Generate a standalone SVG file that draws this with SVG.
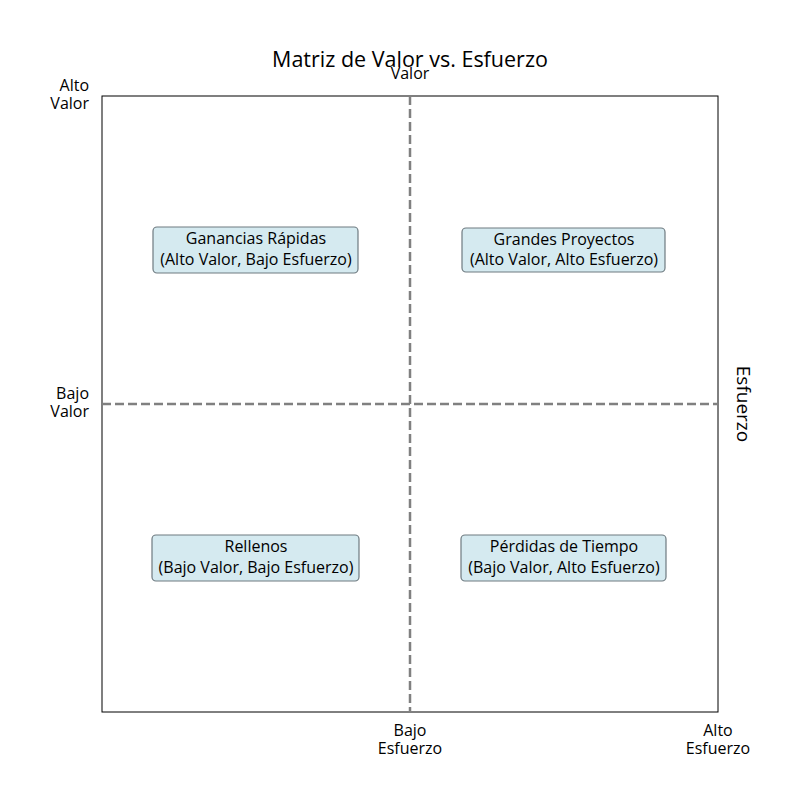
<svg xmlns="http://www.w3.org/2000/svg" width="800" height="800" viewBox="0 0 800 800">
<style>
text{font-family:"Open Sans",Roboto,"DejaVu Sans",sans-serif;fill:#000}
.t{font-size:16px}
.b{fill:#d5eaf0;stroke:#6e7a80;stroke-width:1.2}
.d{stroke:#808080;stroke-width:2.5;stroke-dasharray:9,4;fill:none}
</style>
<rect width="800" height="800" fill="#fff"/>
<text x="410" y="67" font-size="21.5" text-anchor="middle">Matriz de Valor vs. Esfuerzo</text>
<text class="t" x="410" y="79" text-anchor="middle">Valor</text>
<text transform="translate(737,404) rotate(90)" text-anchor="middle" font-size="19">Esfuerzo</text>
<rect x="102" y="96" width="616" height="616" fill="none" stroke="#000" stroke-width="1"/>
<g id="connectors">
<line class="d" x1="410" y1="96" x2="410" y2="712"/>
<line class="d" x1="102" y1="404" x2="718" y2="404"/>
</g>
<g class="t" text-anchor="end">
<text x="89" y="91">Alto</text><text x="89" y="109">Valor</text>
<text x="89" y="399">Bajo</text><text x="89" y="417">Valor</text>
</g>
<g class="t" text-anchor="middle">
<text x="410" y="736">Bajo</text><text x="410" y="754">Esfuerzo</text>
<text x="718" y="736">Alto</text><text x="718" y="754">Esfuerzo</text>
</g>
<g id="q1" class="t" text-anchor="middle"><rect class="b" x="153" y="227" width="205" height="46" rx="4"/><text x="256" y="244">Ganancias Rápidas</text><text x="256" y="265">(Alto Valor, Bajo Esfuerzo)</text></g>
<g id="q2" class="t" text-anchor="middle"><rect class="b" x="462" y="228" width="203" height="44" rx="4"/><text x="564" y="245">Grandes Proyectos</text><text x="564" y="265">(Alto Valor, Alto Esfuerzo)</text></g>
<g id="q3" class="t" text-anchor="middle"><rect class="b" x="152" y="535" width="207" height="46" rx="4"/><text x="256" y="552">Rellenos</text><text x="256" y="573">(Bajo Valor, Bajo Esfuerzo)</text></g>
<g id="q4" class="t" text-anchor="middle"><rect class="b" x="461" y="535" width="205" height="46" rx="4"/><text x="564" y="552">Pérdidas de Tiempo</text><text x="564" y="573">(Bajo Valor, Alto Esfuerzo)</text></g>
</svg>
